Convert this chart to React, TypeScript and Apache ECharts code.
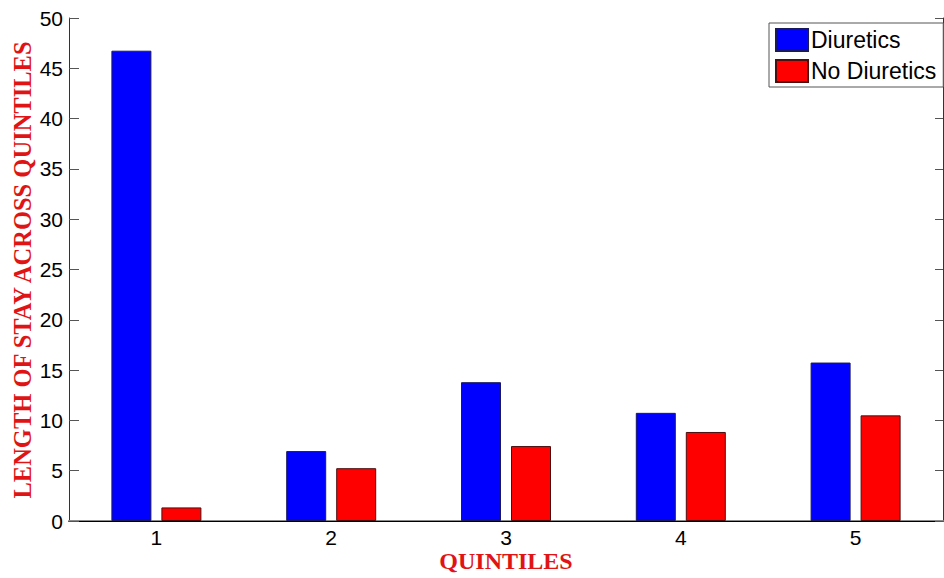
import React, { useEffect, useRef } from "react";
import * as echarts from "echarts";

const categories = ["1", "2", "3", "4", "5"];
const diuretics = [46.75, 6.95, 13.8, 10.75, 15.75];
const noDiuretics = [1.35, 5.25, 7.45, 8.85, 10.5];
const yTicks = { min: 0, max: 50, interval: 5 };
const xTitle = "QUINTILES";
const yTitle = "LENGTH OF STAY ACROSS QUINTILES";

export default function App() {
  const ref = useRef<HTMLDivElement>(null);
  useEffect(() => {
    if (!ref.current) return;
    const chart = echarts.init(ref.current, null, { renderer: "svg" });
    const sans = "Liberation Sans, Arial, sans-serif";
    const serif = "Liberation Serif, Times New Roman, serif";
    chart.setOption({
      animation: false,
      backgroundColor: "#ffffff",
      grid: { left: 69, right: 1, top: 18, bottom: 57, containLabel: false },
      legend: {
        orient: "vertical",
        left: 769,
        top: 23,
        padding: [5, 7, 4, 6],
        itemGap: 7,
        itemWidth: 32,
        itemHeight: 22,
        icon: "rect",
        backgroundColor: "#ffffff",
        borderColor: "#555555",
        borderWidth: 1,
        textStyle: { fontFamily: sans, fontSize: 23, color: "#000", lineHeight: 22, padding: [0, 0, 0, -2] },
        data: ["Diuretics", "No Diuretics"],
      },
      xAxis: [
        {
          type: "category",
          data: categories,
          position: "bottom",
          axisLine: { lineStyle: { color: "#8a8a8a", width: 2 } },
          axisTick: { inside: true, alignWithLabel: true, length: 10, lineStyle: { color: "#666" } },
          axisLabel: { margin: 6, fontFamily: sans, fontSize: 21, color: "#000" },
        },
        {
          type: "category",
          data: categories,
          position: "top",
          axisLine: { lineStyle: { color: "#000", width: 1 } },
          axisTick: { inside: true, alignWithLabel: true, length: 10, lineStyle: { color: "#666" } },
          axisLabel: { show: false },
        },
      ],
      yAxis: [
        {
          type: "value",
          min: yTicks.min,
          max: yTicks.max,
          interval: yTicks.interval,
          position: "left",
          splitLine: { show: false },
          axisLine: { show: true, lineStyle: { color: "#333", width: 1 } },
          axisTick: { show: true, inside: true, length: 10, lineStyle: { color: "#555" } },
          axisLabel: { margin: 6, fontFamily: sans, fontSize: 21, color: "#000" },
        },
        {
          type: "value",
          min: yTicks.min,
          max: yTicks.max,
          interval: yTicks.interval,
          position: "right",
          splitLine: { show: false },
          axisLine: { show: true, lineStyle: { color: "#333", width: 1 } },
          axisTick: { show: true, inside: true, length: 8, lineStyle: { color: "#555" } },
          axisLabel: { show: false },
        },
      ],
      series: [
        {
          name: "Diuretics",
          type: "bar",
          data: diuretics,
          barWidth: 40,
          barGap: "25%",
          itemStyle: { color: "#0000ff", borderColor: "#1a1a5a", borderWidth: 1 },
        },
        {
          name: "No Diuretics",
          type: "bar",
          data: noDiuretics,
          barWidth: 40,
          barGap: "25%",
          itemStyle: { color: "#ff0000", borderColor: "#4a1010", borderWidth: 1 },
        },
      ],
      graphic: [
        {
          type: "text",
          x: 506,
          y: 561,
          style: {
            text: xTitle,
            fontFamily: serif,
            fontWeight: "bold",
            fontSize: 24,
            fill: "#e01414",
            align: "center",
            verticalAlign: "middle",
          },
        },
        {
          type: "text",
          x: 22.5,
          y: 270,
          rotation: Math.PI / 2,
          style: {
            text: yTitle,
            fontFamily: serif,
            fontWeight: "bold",
            fontSize: 24.5,
            fill: "#e01414",
            align: "center",
            verticalAlign: "middle",
          },
        },
      ],
    });
    return () => chart.dispose();
  }, []);
  return (
    <div
      ref={ref}
      style={{ position: "absolute", left: 0, top: 0, width: 944, height: 578 }}
    />
  );
}
